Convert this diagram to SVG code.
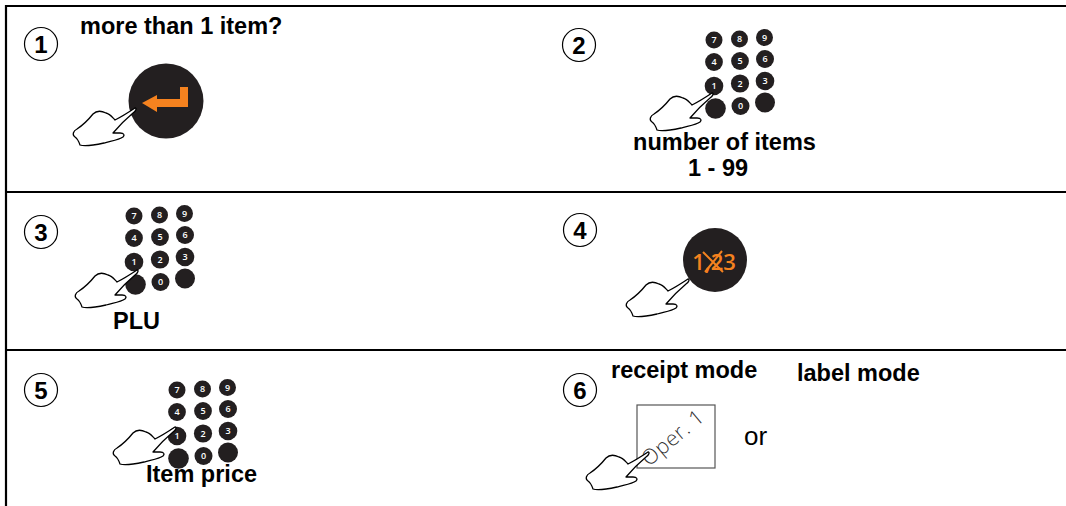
<svg xmlns="http://www.w3.org/2000/svg" xmlns:xlink="http://www.w3.org/1999/xlink" width="1066" height="506" viewBox="0 0 1066 506">
  <style>
    .rule { stroke: #000; stroke-width: 2.2; fill: none; }
    .step { fill: #fff; stroke: #000; stroke-width: 1.2; }
    .stepnum { font-family: "Liberation Sans", Arial, sans-serif; font-weight: bold; font-size: 24px; fill: #000; text-anchor: middle; }
    .label { font-family: "Liberation Sans", Arial, sans-serif; font-weight: bold; font-size: 23.5px; fill: #000; }
    .plain { font-family: "Liberation Sans", Arial, sans-serif; font-size: 26px; fill: #000; }
    .key { fill: #231f20; }
    .keynum { font-family: "Open Sans", "DejaVu Sans", sans-serif; font-weight: 600; font-size: 9px; fill: #fff; text-anchor: middle; }
    .hand { fill: #fff; stroke: #000; stroke-width: 1.3; stroke-linejoin: round; }
    .orange { fill: #f5821f; }
  </style>
  <defs>
    <!-- pointing hand, fingertip at origin -->
    <path id="hand" class="hand" d="M0,0 C-6,4 -14,9 -20,12 C-23,9 -25,6 -29,5 C-33,3 -38,2 -42,6 C-46,11 -52,17 -58,21 C-62,23 -63,27 -60,29 C-57,31 -56,34 -55,37 C-50,39 -40,37 -31,35 C-24,33 -16,32 -12,29 C-10,27 -11,25 -15,25 C-18,25 -20,25 -22,25 C-16,18 -8,10 -2,5 C1,3 2,0 0,0 Z"/>
    <!-- numeric keypad, origin at centre of key 1 -->
    <g id="keypad">
      <circle class="key" cx="0" cy="-46" r="8.5"/>
      <circle class="key" cx="25.5" cy="-47" r="8.5"/>
      <circle class="key" cx="50.5" cy="-48.5" r="8.5"/>
      <circle class="key" cx="0" cy="-24" r="8.9"/>
      <circle class="key" cx="26" cy="-25" r="8.9"/>
      <circle class="key" cx="51" cy="-27" r="9"/>
      <circle class="key" cx="0" cy="0" r="9.3"/>
      <circle class="key" cx="26" cy="-2.5" r="9.1"/>
      <circle class="key" cx="51" cy="-5" r="9.3"/>
      <circle class="key" cx="1.5" cy="22.5" r="10.3"/>
      <circle class="key" cx="26.5" cy="20" r="9"/>
      <circle class="key" cx="51" cy="16.5" r="10"/>
      <text class="keynum" x="0" y="-43">7</text>
      <text class="keynum" x="25.5" y="-44">8</text>
      <text class="keynum" x="50.5" y="-45.5">9</text>
      <text class="keynum" x="0" y="-21">4</text>
      <text class="keynum" x="26" y="-22">5</text>
      <text class="keynum" x="51" y="-24">6</text>
      <text class="keynum" x="0" y="3">1</text>
      <text class="keynum" x="26" y="0.5">2</text>
      <text class="keynum" x="51" y="-2">3</text>
      <text class="keynum" x="26.5" y="23">0</text>
    </g>
  </defs>

  <rect width="1066" height="506" fill="#fff"/>

  <!-- table rules -->
  <g id="table">
    <line class="rule" x1="5" y1="6" x2="1066" y2="6"/>
    <line class="rule" x1="6" y1="5" x2="6" y2="506"/>
    <line class="rule" x1="6" y1="192" x2="1066" y2="192"/>
    <line class="rule" x1="6" y1="350" x2="1066" y2="350"/>
  </g>

  <!-- step 1: enter key -->
  <g id="step1">
    <circle class="step" cx="41" cy="44" r="16.5"/>
    <text class="stepnum" x="41" y="52.5">1</text>
    <text class="label" x="80" y="34">more than 1 item?</text>
    <circle class="key" cx="166" cy="101" r="37.5"/>
    <path class="orange" d="M142,103 L157,95 L157,99 L180,99 L180,87 L188,87 L188,107 L157,107 L157,112 Z"/>
    <use xlink:href="#hand" x="135" y="108"/>
  </g>

  <!-- step 2: quantity on keypad -->
  <g id="step2">
    <circle class="step" cx="579" cy="45" r="16.5"/>
    <text class="stepnum" x="579" y="53.5">2</text>
    <use xlink:href="#keypad" x="714" y="86"/>
    <use xlink:href="#hand" x="712" y="93"/>
    <text class="label" x="724.5" y="150" text-anchor="middle">number of items</text>
    <text class="label" x="718" y="176" text-anchor="middle">1 - 99</text>
  </g>

  <!-- step 3: PLU on keypad -->
  <g id="step3">
    <circle class="step" cx="41" cy="232" r="16.5"/>
    <text class="stepnum" x="41" y="240.5">3</text>
    <use xlink:href="#keypad" x="134" y="262"/>
    <use xlink:href="#hand" x="137" y="270"/>
    <text class="label" x="113" y="329">PLU</text>
  </g>

  <!-- step 4: multiply key -->
  <g id="step4">
    <circle class="step" cx="580" cy="230" r="16.5"/>
    <text class="stepnum" x="580" y="238.5">4</text>
    <circle class="key" cx="715" cy="260" r="32"/>
    <text x="714" y="270" text-anchor="middle" font-family="'Open Sans', 'DejaVu Sans', sans-serif" font-weight="600" font-size="22" fill="#f5821f">1,23</text>
    <path d="M703,252 L723,272 M722,251 L705,272" stroke="#f5821f" stroke-width="2" fill="none"/>
    <use xlink:href="#hand" x="688" y="279"/>
  </g>

  <!-- step 5: item price on keypad -->
  <g id="step5">
    <circle class="step" cx="41" cy="390" r="16.5"/>
    <text class="stepnum" x="41" y="398.5">5</text>
    <use xlink:href="#keypad" x="177" y="436"/>
    <use xlink:href="#hand" x="175" y="427"/>
    <text class="label" x="146" y="482">Item price</text>
  </g>

  <!-- step 6: operator key -->
  <g id="step6">
    <circle class="step" cx="580" cy="390" r="16.5"/>
    <text class="stepnum" x="580" y="398.5">6</text>
    <text class="label" x="611" y="378">receipt mode</text>
    <text class="label" x="797" y="381">label mode</text>
    <rect x="637" y="405" width="78" height="63" fill="#fff" stroke="#555" stroke-width="1.2"/>
    <text transform="translate(649,467) rotate(-40)" font-family="'Open Sans', 'DejaVu Sans', sans-serif" font-weight="300" font-size="21" letter-spacing="0.5" fill="#333">Oper. 1</text>
    <text class="plain" x="744" y="445">or</text>
    <use xlink:href="#hand" x="648" y="452"/>
  </g>
</svg>
